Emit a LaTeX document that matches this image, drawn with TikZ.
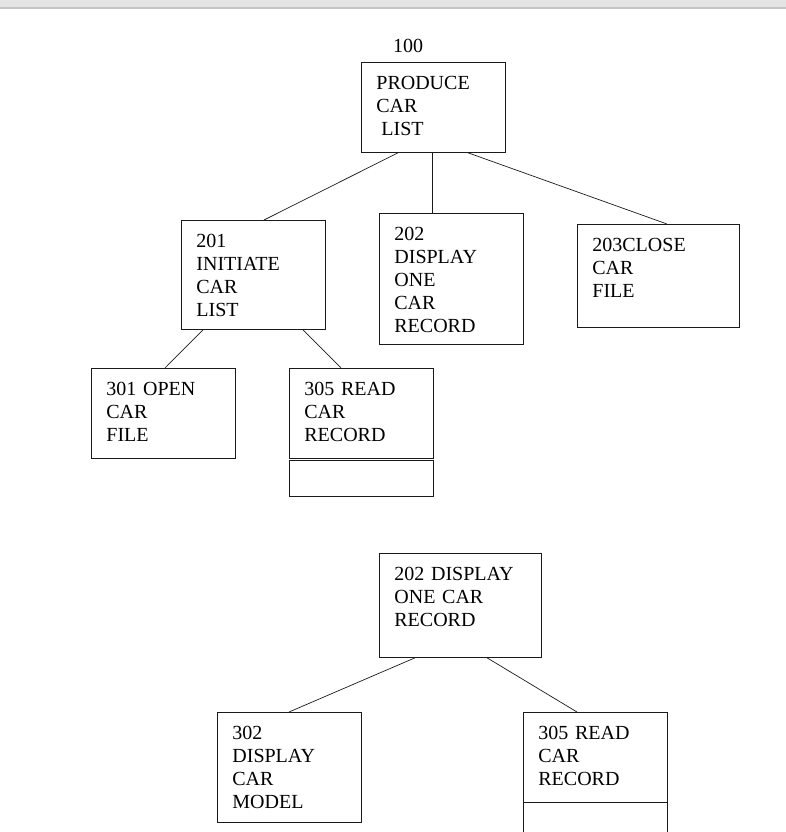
\documentclass[tikz,border=0pt]{standalone}
\usepackage{fontspec}
\setmainfont{Liberation Serif}
\usepackage{xcolor}
\definecolor{cdarkgray}{HTML}{1a1a1a}
\definecolor{cbargray}{HTML}{e4e4e4}
\definecolor{cbarline}{HTML}{c4c4c4}
\tikzset{
	carbox/.style={draw=cdarkgray, line width=0.8pt, anchor=north west, align=left, inner xsep=15pt, inner ysep=0pt, text width=114pt, text height=27.4pt},
	widebox/.style={carbox, text width=132pt},
	link/.style={draw=cdarkgray, line width=0.7pt}
}

\begin{document}
\begin{tikzpicture}[x=1pt, y=-1pt, font=\fontsize{20}{23}\selectfont]
		\useasboundingbox (0,0) rectangle (786,832);
		% window bar
		\fill[cbargray] (0,0) rectangle (786,8);
		\draw[cbarline, line width=1.5pt] (0,8) -- (786,8);

		% upper chart
		\node[anchor=base] (n100) at (408,52.5) {100};
		\node[carbox, text depth=62.6pt] (p100) at (361,62) {PRODUCE\\CAR\\\hspace*{5pt}LIST};
		\node[carbox, text depth=81.6pt] (p201) at (181,220) {201\\INITIATE\\CAR\\LIST};
		\node[carbox, text depth=103.6pt] (p202) at (379,213) {202\\DISPLAY\\ONE\\CAR\\RECORD};
		\node[widebox, text depth=75.6pt] (p203) at (577,224) {203CLOSE\\CAR\\FILE};
		\node[carbox, text depth=62.6pt] (p301) at (91,368) {301 OPEN\\CAR\\FILE};
		\node[carbox, text depth=62.6pt] (p305) at (289,368) {305 READ\\CAR\\RECORD};
		\node[draw=cdarkgray, line width=0.8pt, anchor=north west, inner sep=0pt, minimum width=144pt, minimum height=36pt] (p305x) at ([yshift=-1pt]p305.south west) {};

		\draw[link] ([xshift=37pt]p100.south west) -- ([xshift=83pt]p201.north west);
		\draw[link] ([xshift=71pt]p100.south west) -- ([xshift=53pt]p202.north west);
		\draw[link] ([xshift=107pt]p100.south west) -- ([xshift=90pt]p203.north west);
		\draw[link] ([xshift=22pt]p201.south west) -- ([xshift=74pt]p301.north west);
		\draw[link] ([xshift=122pt]p201.south west) -- ([xshift=52pt]p305.north west);

		% lower chart
		\node[widebox, text depth=76.6pt] (q202) at (379,553) {202 DISPLAY\\ONE CAR\\RECORD};
		\node[carbox, text depth=82.6pt] (q302) at (217,712) {302\\DISPLAY\\CAR\\MODEL};
		\node[carbox, text depth=62.6pt] (q305) at (523,712) {305 READ\\CAR\\RECORD};
		\draw[cdarkgray, line width=0.8pt] (q305.south west) -- ++(0,32);
		\draw[cdarkgray, line width=0.8pt] (q305.south east) -- ++(0,32);

		\draw[link] ([xshift=36pt]q202.south west) -- ([xshift=72pt]q302.north west);
		\draw[link] ([xshift=108pt]q202.south west) -- ([xshift=54pt]q305.north west);
	\end{tikzpicture}
\end{document}
